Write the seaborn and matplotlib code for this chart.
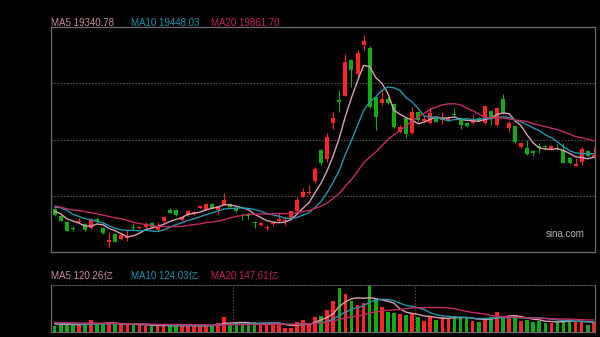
import numpy as np
import pandas as pd
import matplotlib
matplotlib.use("Agg")
import matplotlib.pyplot as plt
import seaborn as sns

# ---- daily index data (points) ----
opens = [17683, 17459, 17283, 17091, 17267, 17203, 17091, 17379, 17075, 16643,
         16883, 16723, 16771, 17123, 17075, 17107, 17251, 17011, 17299, 17651,
         17667, 17347, 17507, 17539, 17731, 17667, 17859, 17667, 17827, 17859,
         17731, 17507, 17507, 17283, 17171, 17091, 17203, 17315, 17299, 17411,
         17619, 18083, 18205, 18579, 19587, 19299, 20451, 21171, 21315, 22467,
         22019, 22931, 22851, 21267, 21075, 21219, 21059, 20163, 20611, 20115,
         20787, 20515, 20451, 20595, 20531, 20515, 20739, 20595, 20445, 20425,
         20595, 20425, 20829, 20371, 21193, 20265, 20339, 19667, 19635, 19539,
         19699, 19699, 19619, 19651, 19587, 19331, 19075, 19197, 19549, 19357]
highs = [17715, 17491, 17299, 17155, 17395, 17235, 17411, 17443, 17107, 16963,
         16915, 16947, 17011, 17235, 17155, 17267, 17267, 17267, 17459, 17715,
         17683, 17459, 17651, 17619, 17795, 17891, 17875, 17811, 18211, 17875,
         17747, 17571, 17555, 17299, 17267, 17171, 17299, 17555, 17443, 17635,
         18083, 18371, 18451, 19043, 19603, 20115, 20803, 21491, 22659, 22499,
         22771, 23251, 22899, 21299, 21491, 21267, 21075, 20371, 20643, 20947,
         20803, 20691, 20947, 20659, 20803, 20643, 20915, 20643, 20467, 20691,
         20627, 21011, 20851, 20963, 21363, 20499, 20355, 19827, 19891, 19571,
         19795, 19747, 19731, 19779, 19795, 19347, 19315, 19683, 19571, 19657]
lows = [17459, 17299, 16979, 16995, 17235, 16979, 17059, 17251, 16883, 16467,
        16627, 16691, 16675, 17027, 17043, 17043, 17107, 16995, 17267, 17555,
        17475, 17315, 17475, 17507, 17715, 17651, 17683, 17523, 17811, 17731,
        17587, 17331, 17363, 17075, 17155, 17011, 17155, 17283, 17171, 17395,
        17603, 18067, 18179, 18531, 19091, 19203, 20259, 20803, 21299, 21603,
        21875, 22771, 20915, 20211, 21011, 21059, 20275, 20131, 19955, 20083,
        20483, 20483, 20419, 20467, 20419, 20499, 20627, 20259, 20307, 20403,
        20499, 20419, 20371, 20355, 20723, 20157, 19811, 19635, 19411, 19379,
        19475, 19571, 19603, 19571, 19155, 19139, 19059, 19091, 19347, 19331]
closes = [17491, 17315, 16995, 17059, 17299, 17011, 17331, 17315, 16931, 16707,
          16643, 16851, 16835, 17091, 17123, 17187, 17123, 17107, 17427, 17571,
          17507, 17427, 17619, 17587, 17779, 17859, 17699, 17795, 17971, 17747,
          17635, 17475, 17475, 17251, 17235, 17123, 17251, 17363, 17347, 17619,
          17987, 18227, 18237, 18979, 19155, 19987, 20595, 21123, 22387, 22131,
          22691, 23059, 20947, 20627, 21219, 21091, 20323, 20323, 20099, 20787,
          20531, 20579, 20755, 20483, 20579, 20611, 20707, 20371, 20339, 20509,
          20515, 20995, 20585, 20931, 20745, 20425, 19837, 19795, 19459, 19466.7,
          19640.4, 19667, 19699, 19600, 19170, 19171, 19123, 19591, 19394, 19424.9]
# turnover, 亿
volumes = [77.5, 94.2, 96.8, 93.1, 86.4, 95.3, 147.6, 92.9, 95.8, 119.3,
           94.1, 96.2, 93.5, 85.2, 87.0, 78.3, 70.1, 76.9, 86.8, 78.2,
           76.4, 77.9, 79.1, 76.6, 78.0, 85.7, 77.2, 107.0, 184.5, 94.7,
           105.8, 95.4, 93.6, 126.7, 106.2, 108.1, 105.3, 94.0, 45.5, 52.9,
           119.3, 147.6, 94.7, 184.5, 200.5, 270.6, 381.3, 537.5, 467.4, 385.0,
           332.1, 353.0, 578.1, 402.2, 311.2, 249.7, 237.4, 217.7, 209.1, 230.0,
           188.2, 139.0, 188.2, 147.6, 188.2, 175.9, 188.2, 175.9, 168.5, 135.3,
           121.5, 177.3, 190.6, 242.8, 189.9, 181.4, 201.7, 132.6, 153.2, 120.9,
           141.2, 113.8, 116.5, 120.1, 147.4, 158.6, 117.2, 116.9, 89.3, 119.3]

# the 19 sessions before the window, needed to seed the moving averages
prior_closes = [18070, 18090, 17720, 17720, 17770, 17980, 18030, 17800, 17520, 17520,
                17470, 17830, 18290, 18000, 17730, 17740, 17780, 17420, 17640]
prior_volumes = [125, 118, 132, 110, 128, 121, 140, 115, 108, 130,
                 126, 119, 135, 112, 124, 101, 117, 96, 104]

ma_windows = [5, 10, 20]
ma_colors = {5: "#dc9fb0", 10: "#2696ae", 20: "#c52a63"}
label_colors = {5: "#c98a9c", 10: "#1f93ab", 20: "#c4235c"}
UP, DOWN = "#ff2424", "#12ab12"
BORDER, GRID = "#6b6b6b", "#4e4e4e"

# ---- derived series ----
n = len(closes)
x = np.arange(n)
o, h, l, c = (np.array(a, dtype=float) for a in (opens, highs, lows, closes))
v = np.array(volumes, dtype=float)
k = len(prior_closes)
close_all = pd.Series(prior_closes + closes, dtype=float)
vol_all = pd.Series(prior_volumes + volumes, dtype=float)
ma = {w: close_all.rolling(w).mean().to_numpy()[k:] for w in ma_windows}
vma = {w: vol_all.rolling(w).mean().to_numpy()[k:] for w in ma_windows}
colors = np.where(c >= o, UP, DOWN)

sns.set_theme(style="dark", rc={"axes.facecolor": "black", "figure.facecolor": "black",
                                "axes.edgecolor": BORDER})
plt.rcParams["font.family"] = ["Liberation Sans", "Noto Sans CJK SC"]

W, H = 600, 337
fig = plt.figure(figsize=(W / 100, H / 100), dpi=100, facecolor="black")
ax = fig.add_axes([51 / W, (H - 252) / H, 544 / W, 225 / H])
axv = fig.add_axes([51 / W, (H - 332) / H, 544 / W, 47 / H])

# ---- price panel ----
ax.vlines(x, l, h, colors=colors, linewidth=0.8, zorder=2)
body = np.maximum(np.abs(c - o), 22)
ax.bar(x, body, bottom=np.minimum(o, c), width=0.66, color=colors, linewidth=0, zorder=2)
for w in ma_windows:
    sns.lineplot(x=x, y=ma[w], ax=ax, color=ma_colors[w], linewidth=1.0, zorder=3)

ylo, yhi = 16307, 23507
ax.set_ylim(ylo, yhi)
ax.set_xlim(-0.6, n - 0.8)
ax.set_yticks(np.linspace(ylo, yhi, 5)[1:-1])
ax.set_xticks([])
ax.grid(axis="y", color=GRID, linestyle=(0, (1.4, 1.4)), linewidth=0.8)
ax.grid(axis="x", visible=False)
ax.tick_params(length=0, labelleft=False, labelbottom=False)
ax.set_xlabel("")
ax.set_ylabel("")
for s in ax.spines.values():
    s.set_visible(True)
    s.set_color(BORDER)
    s.set_linewidth(0.9)

# ---- volume panel ----
axv.bar(x, v, width=0.6, color=colors, linewidth=0, zorder=2)
for w in ma_windows:
    sns.lineplot(x=x, y=vma[w], ax=axv, color=ma_colors[w], linewidth=1.0, zorder=3)
axv.set_ylim(0, v.max())
axv.set_xlim(-0.6, n - 0.8)
axv.set_yticks([])
axv.set_xticks([29.5, 59.5])
axv.grid(axis="x", color=GRID, linestyle=(0, (1.4, 1.4)), linewidth=0.8)
axv.grid(axis="y", visible=False)
axv.tick_params(length=0, labelleft=False, labelbottom=False)
axv.set_xlabel("")
axv.set_ylabel("")
for name, s in axv.spines.items():
    s.set_visible(True)
    s.set_color(BORDER)
    s.set_linewidth(0.9)
axv.spines["top"].set_linestyle((0, (1.4, 1.4)))
axv.spines["top"].set_color(GRID)

# ---- moving-average readouts ----
label_x = {5: 51, 10: 131, 20: 211}
for w in ma_windows:
    fig.text(label_x[w] / W, 1 - 22.5 / H, f"MA{w} {ma[w][-1]:.2f}",
             color=label_colors[w], fontsize=7, ha="left", va="center")
    fig.text(label_x[w] / W, 1 - 276.5 / H, f"MA{w} {vma[w][-1]:.2f}亿",
             color=label_colors[w], fontsize=7, ha="left", va="center")

fig.text(546 / W, 1 - 234 / H, "sina.com", color="#b4b4b4", fontsize=7,
         ha="left", va="center")

fig.savefig("out.png", dpi=100, facecolor="black")
